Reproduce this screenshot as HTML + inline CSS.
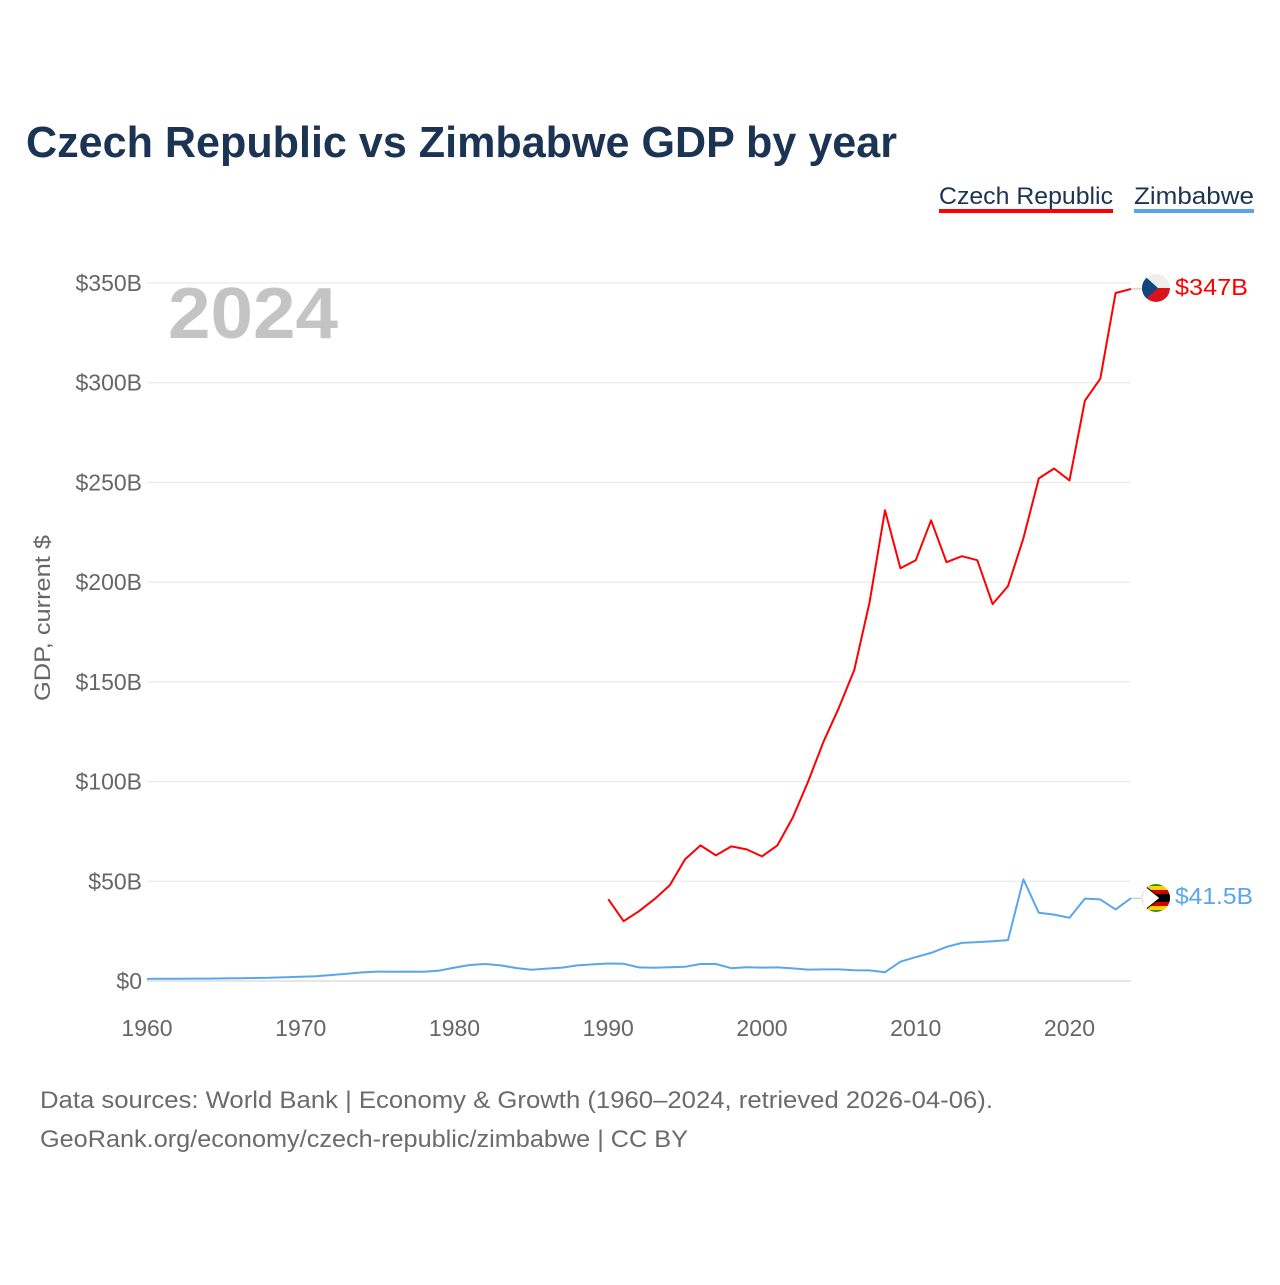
<!DOCTYPE html>
<html><head><meta charset="utf-8"><style>
html,body{margin:0;padding:0;background:#fff;}
body{width:1280px;height:1280px;overflow:hidden;font-family:"Liberation Sans",sans-serif;}
</style></head><body>
<svg width="1280" height="1280" viewBox="0 0 1280 1280">
<text x="26" y="157" font-size="44" font-weight="bold" fill="#1c3454" textLength="871" lengthAdjust="spacingAndGlyphs">Czech Republic vs Zimbabwe GDP by year</text>
<g><text x="939" y="204" font-size="24" fill="#1c3454" textLength="174" lengthAdjust="spacingAndGlyphs">Czech Republic</text><rect x="939" y="209" width="174" height="4" fill="#ff0000"/></g>
<g><text x="1134" y="204" font-size="24" fill="#1c3454" textLength="120" lengthAdjust="spacingAndGlyphs">Zimbabwe</text><rect x="1134" y="209" width="120" height="4" fill="#5aa6ee"/></g>
<g id="grid"></g>
<text x="168" y="338" font-size="72" font-weight="bold" fill="#c4c4c4" textLength="170" lengthAdjust="spacingAndGlyphs">2024</text>
<text transform="translate(50,618) rotate(-90)" text-anchor="middle" font-size="22" fill="#666" textLength="166" lengthAdjust="spacingAndGlyphs">GDP, current $</text>
<g id="lines"></g>
<g>
<clipPath id="c1"><circle cx="1156" cy="288" r="14"/></clipPath>
<g clip-path="url(#c1)"><rect x="1140" y="272" width="32" height="16" fill="#eee"/><rect x="1140" y="288" width="32" height="16" fill="#d7141a"/><polygon points="1140,272 1158,288 1140,304" fill="#11457e"/></g></g>
<g>
<clipPath id="c2"><circle cx="1156" cy="898" r="14"/></clipPath>
<g clip-path="url(#c2)"><rect x="1140" y="882" width="32" height="32" fill="#319208"/><rect x="1140" y="886" width="32" height="24" fill="#ffd200"/><rect x="1140" y="890" width="32" height="16" fill="#d40000"/><rect x="1140" y="894" width="32" height="8" fill="#000"/><polygon points="1140,882 1160,898 1140,914" fill="#fff" stroke="#000" stroke-width="1"/></g></g>
<text x="1175" y="295" font-size="23" fill="#ff0000" textLength="73" lengthAdjust="spacingAndGlyphs">$347B</text>
<text x="1175" y="904" font-size="23" fill="#5aa6ee" textLength="78" lengthAdjust="spacingAndGlyphs">$41.5B</text>
<text x="40" y="1108" font-size="24" fill="#6b6b6b" textLength="953" lengthAdjust="spacingAndGlyphs">Data sources: World Bank | Economy &amp; Growth (1960–2024, retrieved 2026-04-06).</text>
<text x="40" y="1147" font-size="24" fill="#6b6b6b" textLength="648" lengthAdjust="spacingAndGlyphs">GeoRank.org/economy/czech-republic/zimbabwe | CC BY</text>
</svg>
<script>
const yTicks=[0,50,100,150,200,250,300,350];
const yTickLabels=["$0","$50B","$100B","$150B","$200B","$250B","$300B","$350B"];
const xTicks=[1960,1970,1980,1990,2000,2010,2020];
const czechYears=[1990,1991,1992,1993,1994,1995,1996,1997,1998,1999,2000,2001,2002,2003,2004,2005,2006,2007,2008,2009,2010,2011,2012,2013,2014,2015,2016,2017,2018,2019,2020,2021,2022,2023,2024];
const czechValues=[41,30,35,41,48,61,68,63,67.5,66,62.5,68,82,100,120,137,156,190,236,207,211,231,210,213,211,189,198,222,252,257,251,291,302,345,347];
const zimStartYear=1960;
const zimValues=[1.05,1.1,1.16,1.2,1.2,1.3,1.4,1.5,1.6,1.9,2.1,2.4,3.0,3.6,4.3,4.7,4.6,4.7,4.6,5.2,6.7,8.0,8.5,7.8,6.5,5.6,6.2,6.7,7.8,8.3,8.8,8.6,6.8,6.6,6.9,7.1,8.5,8.5,6.4,6.9,6.7,6.8,6.3,5.7,5.8,5.8,5.4,5.3,4.4,9.7,12.0,14.1,17.1,19.1,19.5,19.96,20.5,51,34.2,33.3,31.7,41.3,40.9,35.9,41.5];
const X=y=>147+(y-1960)*(1131-147)/64;
const Y=v=>981-v*(981-283)/350;
const NS="http://www.w3.org/2000/svg";
const grid=document.getElementById('grid');
yTicks.forEach((t,i)=>{
 const l=document.createElementNS(NS,'line');
 l.setAttribute('x1',147);l.setAttribute('x2',1131);l.setAttribute('y1',Y(t));l.setAttribute('y2',Y(t));
 l.setAttribute('stroke',t===0?'#ccc':'#e6e6e6');l.setAttribute('stroke-width',1);
 
 
 grid.appendChild(l);
 const tx=document.createElementNS(NS,'text');
 tx.setAttribute('x',142);tx.setAttribute('y',Y(t)+8);tx.setAttribute('text-anchor','end');
 tx.setAttribute('font-size','23');tx.setAttribute('fill','#666');tx.textContent=yTickLabels[i];
 
 
 grid.appendChild(tx);
});
xTicks.forEach(t=>{
 const tx=document.createElementNS(NS,'text');
 tx.setAttribute('x',X(t));tx.setAttribute('y',1036);tx.setAttribute('text-anchor','middle');
 tx.setAttribute('font-size','23');tx.setAttribute('fill','#666');tx.textContent=t;
 
 
 grid.appendChild(tx);
});
const lines=document.getElementById('lines');
function addLine(pts,color,name){
 const p=document.createElementNS(NS,'polyline');
 p.setAttribute('points',pts.map(q=>q[0].toFixed(1)+','+q[1].toFixed(1)).join(' '));
 p.setAttribute('fill','none');p.setAttribute('stroke',color);p.setAttribute('stroke-width',2);p.setAttribute('stroke-linejoin','round');
 
 
 lines.appendChild(p);
}
addLine(zimValues.map((v,i)=>[X(zimStartYear+i),Y(v)]),'#5aa6ee','zimbabwe-line');
addLine(czechValues.map((v,i)=>[X(czechYears[i]),Y(v)]),'#ff0000','czech-line');
function connector(v,name){
 const l=document.createElementNS(NS,'line');
 l.setAttribute('x1',X(2024));l.setAttribute('x2',1142);l.setAttribute('y1',Y(v));l.setAttribute('y2',Y(v));
 l.setAttribute('stroke','#bbb');l.setAttribute('stroke-width',1);
 
 
 lines.appendChild(l);
}
connector(czechValues[czechValues.length-1],'czech-connector');
connector(zimValues[zimValues.length-1],'zimbabwe-connector');
</script>
</body></html>
